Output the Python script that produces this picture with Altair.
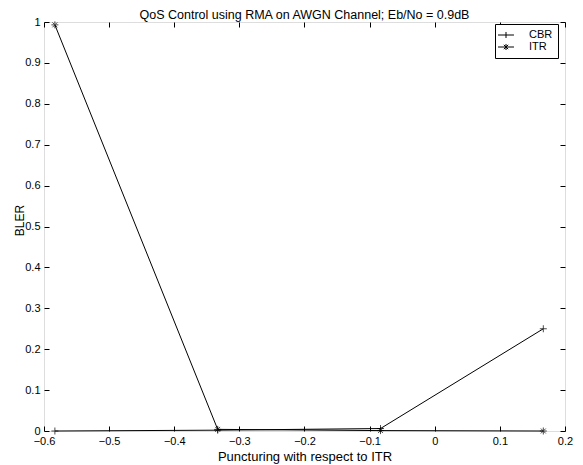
import altair as alt
import pandas as pd

# data
x_vals = [-0.5833, -0.3333, -0.0833, 0.1667]
cbr = [0.0, 0.002, 0.006, 0.25]
itr = [0.993, 0.004, 0.001, 0.0]
series = ["CBR", "ITR"]
x_ticks = [-0.6, -0.5, -0.4, -0.3, -0.2, -0.1, 0.0, 0.1, 0.2]
y_ticks = [0, 0.1, 0.2, 0.3, 0.4, 0.5, 0.6, 0.7, 0.8, 0.9, 1.0]

rows = []
for name, vals in zip(series, [cbr, itr]):
    for i, (xv, yv) in enumerate(zip(x_vals, vals)):
        rows.append({"x": xv, "y": yv, "series": name, "order": i})
df = pd.DataFrame(rows)

FONT = "Liberation Sans"
W, H = 521, 409

marker_paths = [
    "M-1,0H1M0,-1V1",
    "M-1,0H1M0,-1V1M-0.7,-0.7L0.7,0.7M-0.7,0.7L0.7,-0.7",
]
legend_paths = [
    "M-1.45,0H1.45M0,-0.55V0.55",
    "M-1.45,0H1.45M0,-0.55V0.55M-0.4,-0.4L0.4,0.4M-0.4,0.4L0.4,-0.4",
]

xscale = alt.Scale(domain=[-0.6, 0.2], nice=False, zero=False)
yscale = alt.Scale(domain=[0, 1], nice=False)

common_axis = dict(domain=False, grid=False, tickColor="black", tickSize=5,
                   offset=-5, labelFont=FONT, labelFontSize=11, labelColor="black",
                   titleFont=FONT, titleColor="black", titleFontWeight="normal",
                   format="~g", labelFlush=False, labelOverlap=False)

x_bottom = alt.X("x:Q", scale=xscale,
                 axis=alt.Axis(values=x_ticks, title="Puncturing with respect to ITR",
                               titleFontSize=13, labelPadding=4, titlePadding=4,
                               **common_axis))
y_left = alt.Y("y:Q", scale=yscale,
               axis=alt.Axis(values=y_ticks, title="BLER", titleFontSize=12,
                             labelPadding=4, titleX=-30, titleY=198, titleBaseline="middle",
                             **common_axis))

x_top = alt.X("x:Q", scale=xscale,
              axis=alt.Axis(values=x_ticks, orient="top", labels=False, title=None,
                            domain=False, grid=False, tickColor="black", tickSize=5, offset=-5))
y_right = alt.Y("y:Q", scale=yscale,
                axis=alt.Axis(values=y_ticks, orient="right", labels=False, title=None,
                              domain=False, grid=False, tickColor="black", tickSize=5, offset=-5))

lines = alt.Chart(df).mark_line(color="black", strokeWidth=1).encode(
    x=x_top, y=y_right, detail="series:N", order="order:Q"
)

markers = alt.Chart(df).mark_point(color="black", filled=False, strokeWidth=1, size=49).encode(
    x=x_bottom, y=y_left,
    shape=alt.Shape("series:N", scale=alt.Scale(domain=series, range=marker_paths), legend=None),
)

legend_layer = alt.Chart(df).mark_point(color="black", filled=False, strokeWidth=1, opacity=0).encode(
    x=alt.X("x:Q", scale=xscale, axis=None),
    y=alt.Y("y:Q", scale=yscale, axis=None),
    shape=alt.Shape("series:N", scale=alt.Scale(domain=series, range=legend_paths),
                    legend=alt.Legend(title=None, orient="none", legendX=451, legendY=2,
                                      padding=5, strokeColor="black", fillColor="white",
                                      symbolSize=121, symbolStrokeColor="black",
                                      symbolStrokeWidth=1, symbolOpacity=1,
                                      symbolFillColor="transparent",
                                      labelFont=FONT, labelFontSize=11, labelColor="black",
                                      labelOffset=17, rowPadding=0,
                                      labelExpr="datum.label + '     '")),
)

chart = alt.layer(lines, markers, legend_layer).resolve_scale(
    shape="independent"
).resolve_axis(x="independent", y="independent").properties(
    width=W, height=H,
    title=alt.TitleParams("QoS Control using RMA on AWGN Channel; Eb/No = 0.9dB",
                          font=FONT, fontSize=12.5, fontWeight="normal", color="black",
                          anchor="middle", offset=-5),
    autosize=alt.AutoSizeParams(type="none"),
    padding={"left": 36, "top": 14, "right": 10, "bottom": 34},
).configure_view(stroke="black", strokeWidth=1).configure(background="white")

chart.save("out.html", embed_options={"renderer": "svg", "actions": False})
